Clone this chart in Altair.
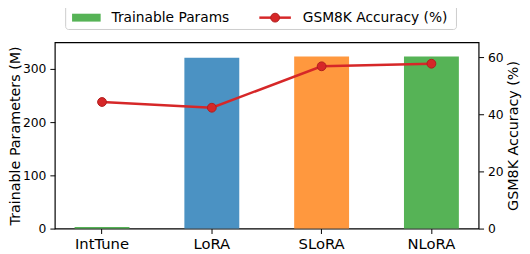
import altair as alt
import pandas as pd

methods = ["IntTune", "LoRA", "SLoRA", "NLoRA"]
params_m = [3.0, 321.0, 323.5, 323.5]
accuracy = [44.3, 42.3, 56.8, 57.7]
bar_colors = ["#56b356", "#4b92c3", "#ff983e", "#56b356"]
left_ticks = [0, 100, 200, 300]
right_ticks = [0, 20, 40, 60]
legend_labels = ["Trainable Params", "GSM8K Accuracy (%)"]

FONT = "DejaVu Sans"
RED = "#d62728"

df = pd.DataFrame({"method": methods, "params": params_m, "acc": accuracy})

xenc = alt.X(
    "method:N",
    sort=methods,
    scale=alt.Scale(paddingInner=0.5, paddingOuter=0.18),
    axis=alt.Axis(title=None, labelAngle=0, labelFontSize=15, labelFont=FONT,
                  labelColor="black", tickColor="black", tickSize=5,
                  labelPadding=3, domain=False),
)

bars = alt.Chart(df).mark_bar().encode(
    x=xenc,
    y=alt.Y("params:Q", scale=alt.Scale(domain=[0, 350], nice=False, zero=True),
            axis=alt.Axis(title="Trainable Parameters (M)", values=left_ticks,
                          titleFontSize=14.5, titleFont=FONT, titleFontWeight="normal",
                          titleColor="black", labelFontSize=12.5, labelFont=FONT,
                          labelColor="black", tickColor="black", tickSize=5,
                          labelPadding=4, titleAngle=270, titleBaseline="top",
                          titleX=-47, grid=False, domain=False)),
    color=alt.Color("method:N", scale=alt.Scale(domain=methods, range=bar_colors), legend=None),
)

yacc = alt.Y("acc:Q", scale=alt.Scale(domain=[0, 65.2], nice=False, zero=True),
             axis=alt.Axis(title="GSM8K Accuracy (%)", values=right_ticks, orient="right",
                           titleFontSize=14.5, titleFont=FONT, titleFontWeight="normal",
                           titleColor="black", labelFontSize=12.5, labelFont=FONT,
                           labelColor="black", tickColor="black", tickSize=5,
                           labelPadding=4, titleAngle=270, titleBaseline="top",
                           titleX=28, grid=False, domain=False))

line = alt.Chart(df).mark_line(color=RED, strokeWidth=2.5).encode(x=xenc, y=yacc)
pts = alt.Chart(df).mark_point(filled=True, size=80, color=RED, opacity=1,
                               stroke="#b01e1e", strokeWidth=1).encode(x=xenc, y=yacc)

one = alt.Data(values=[{"k": 0}])
leg_box = alt.Chart(one).mark_rect(fill="white", stroke="#cccccc", strokeWidth=1,
                                   cornerRadius=3).encode(
    x=alt.value(11), x2=alt.value(407.5), y=alt.value(-38), y2=alt.value(-13))
leg_patch = alt.Chart(one).mark_rect(fill="#56b356").encode(
    x=alt.value(17.5), x2=alt.value(46.5), y=alt.value(-29), y2=alt.value(-21))
leg_text1 = alt.Chart(one).mark_text(align="left", baseline="middle", fontSize=14,
                                     font=FONT, color="black").encode(
    x=alt.value(57.5), y=alt.value(-25), text=alt.value(legend_labels[0]))
leg_line = alt.Chart(one).mark_rule(color=RED, strokeWidth=2.5).encode(
    x=alt.value(207.5), x2=alt.value(239.5), y=alt.value(-25))
leg_pt = alt.Chart(one).mark_point(filled=True, size=80, color=RED, opacity=1,
                                   stroke="#b01e1e", strokeWidth=1).encode(
    x=alt.value(223.5), y=alt.value(-25))
leg_text2 = alt.Chart(one).mark_text(align="left", baseline="middle", fontSize=14,
                                     font=FONT, color="black").encode(
    x=alt.value(251.5), y=alt.value(-25), text=alt.value(legend_labels[1]))

chart = alt.layer(
    bars, alt.layer(line, pts), leg_box, leg_patch, leg_text1, leg_line, leg_pt, leg_text2
).resolve_scale(y="independent", color="independent").properties(
    width=430, height=189,
    background="white",
    autosize=alt.AutoSizeParams(type="none"),
    padding={"left": 47.5, "top": 33, "right": 44, "bottom": 24},
).configure_view(stroke="black", strokeWidth=1.2)

chart.save("out.html", embed_options={"renderer": "svg", "actions": False})
